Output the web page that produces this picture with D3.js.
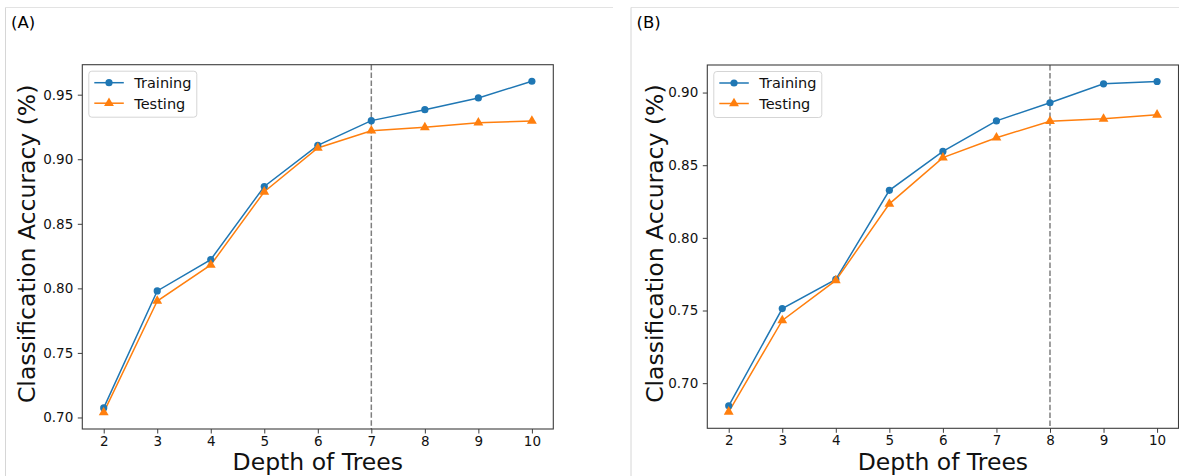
<!DOCTYPE html>
<html>
<head>
<meta charset="utf-8">
<script src="https://cdn.jsdelivr.net/npm/d3@7"></script>
<style>
  body { margin: 0; background: #fff; }
  svg { display: block; font-family: "DejaVu Sans", sans-serif; }
</style>
</head>
<body>
<div id="chart"></div>
<script>
// tree depths on the x axis
const depths = [2, 3, 4, 5, 6, 7, 8, 9, 10];

// panel (A)
const trainA = [0.7074, 0.7980, 0.8223, 0.8789, 0.9107, 0.9299, 0.9384, 0.9475, 0.9604];
const testA  = [0.7039, 0.7902, 0.8181, 0.8748, 0.9087, 0.9221, 0.9247, 0.9283, 0.9296];
const yTicksA = [0.70, 0.75, 0.80, 0.85, 0.90, 0.95];
const cutA = 7;

// panel (B)
const trainB = [0.6844, 0.7513, 0.7714, 0.8327, 0.8595, 0.8805, 0.8930, 0.9060, 0.9076];
const testB  = [0.6803, 0.7432, 0.7707, 0.8234, 0.8552, 0.8689, 0.8803, 0.8819, 0.8847];
const yTicksB = [0.70, 0.75, 0.80, 0.85, 0.90];
const cutB = 8;

const seriesNames = ['Training', 'Testing'];

const W = 1179, H = 476;
const blue = '#1f77b4', orange = '#ff7f0e';
const spine = '#3d3d3d';

const svg = d3.select('#chart').append('svg')
    .attr('width', W)
    .attr('height', H);

function drawPanel(opts) {
  const {frameX, label, left, right, top, bottom, train, test, yTicks, cut, ylabelDx} = opts;

  // light gray panel border (top + left only)
  svg.append('line')
    .attr('x1', frameX).attr('x2', opts.frameRight)
    .attr('y1', 7.5).attr('y2', 7.5)
    .attr('stroke', '#e3e3e3');
  svg.append('line')
    .attr('x1', frameX).attr('x2', frameX)
    .attr('y1', 7.5).attr('y2', H)
    .attr('stroke', '#d6d6d6');

  svg.append('text')
    .attr('x', frameX + 5.5)
    .attr('y', 28)
    .attr('font-size', 16.5)
    .attr('fill', '#000')
    .text(label);

  // matplotlib style 5% margins
  const all = train.concat(test);
  const [lo, hi] = d3.extent(all);
  const pad = (hi - lo) * 0.05;

  const x = d3.scaleLinear()
    .domain([depths[0] - 0.4, depths[depths.length - 1] + 0.4])
    .range([left, right]);
  const y = d3.scaleLinear()
    .domain([lo - pad, hi + pad])
    .range([bottom, top]);

  const g = svg.append('g');

  // axes
  const xAxis = d3.axisBottom(x).tickValues(depths).tickFormat(d3.format('d'))
    .tickSize(4.5).tickPadding(3);
  const yAxis = d3.axisLeft(y).tickValues(yTicks).tickFormat(d3.format('.2f'))
    .tickSize(4.5).tickPadding(4.5);

  const gx = g.append('g')
    .attr('transform', `translate(0,${bottom})`)
    .call(xAxis);
  const gy = g.append('g')
    .attr('transform', `translate(${left},0)`)
    .call(yAxis);
  [gx, gy].forEach(a => {
    a.select('.domain').remove();
    a.selectAll('.tick line').attr('stroke', spine).attr('stroke-width', 1);
    a.selectAll('.tick text')
      .attr('font-size', 13.5)
      .attr('fill', '#111')
      .attr('font-family', '"DejaVu Sans", sans-serif');
  });

  // vertical dashed cut line
  g.append('line')
    .attr('x1', x(cut)).attr('x2', x(cut))
    .attr('y1', top).attr('y2', bottom)
    .attr('stroke', '#7f7f7f')
    .attr('stroke-width', 1.5)
    .attr('stroke-dasharray', '5.5,2.4');

  const line = d3.line()
    .x((d, i) => x(depths[i]))
    .y(d => y(d));

  g.append('path')
    .datum(train)
    .attr('d', line)
    .attr('fill', 'none')
    .attr('stroke', blue)
    .attr('stroke-width', 1.5);
  g.append('path')
    .datum(test)
    .attr('d', line)
    .attr('fill', 'none')
    .attr('stroke', orange)
    .attr('stroke-width', 1.5);

  g.selectAll('.dot')
    .data(train)
    .join('circle')
      .attr('class', 'dot')
      .attr('cx', (d, i) => x(depths[i]))
      .attr('cy', d => y(d))
      .attr('r', 3.6)
      .attr('fill', blue);

  const tri = d3.symbol().type(d3.symbolTriangle).size(42);
  g.selectAll('.tri')
    .data(test)
    .join('path')
      .attr('class', 'tri')
      .attr('transform', (d, i) => `translate(${x(depths[i])},${y(d)})`)
      .attr('d', tri)
      .attr('fill', orange);

  // frame
  g.append('rect')
    .attr('x', left).attr('y', top)
    .attr('width', right - left).attr('height', bottom - top)
    .attr('fill', 'none')
    .attr('stroke', spine)
    .attr('stroke-width', 1.1);

  // axis labels
  g.append('text')
    .attr('x', (left + right) / 2)
    .attr('y', 469.5)
    .attr('text-anchor', 'middle')
    .attr('font-size', 23.5)
    .attr('fill', '#111')
    .text('Depth of Trees');

  g.append('text')
    .attr('transform', `translate(${left + ylabelDx},${(top + bottom) / 2 - 3}) rotate(-90)`)
    .attr('text-anchor', 'middle')
    .attr('font-size', 23.5)
    .attr('fill', '#111')
    .text('Classification Accuracy (%)');

  // legend
  const lg = g.append('g').attr('transform', `translate(${left + 6.5},${top + 6.5})`);
  lg.append('rect')
    .attr('width', 108).attr('height', 46)
    .attr('rx', 3)
    .attr('fill', '#fff')
    .attr('fill-opacity', 0.85)
    .attr('stroke', '#d5d5d5');
  const entries = [
    {name: seriesNames[0], color: blue, shape: 'circle'},
    {name: seriesNames[1], color: orange, shape: 'tri'}
  ];
  entries.forEach((e, i) => {
    const cy = 11.5 + i * 20.5;
    lg.append('line')
      .attr('x1', 5.5).attr('x2', 35)
      .attr('y1', cy).attr('y2', cy)
      .attr('stroke', e.color).attr('stroke-width', 1.5);
    if (e.shape === 'circle') {
      lg.append('circle').attr('cx', 20.2).attr('cy', cy).attr('r', 3.6).attr('fill', e.color);
    } else {
      lg.append('path').attr('transform', `translate(20.2,${cy})`).attr('d', tri).attr('fill', e.color);
    }
    lg.append('text')
      .attr('x', 45.5)
      .attr('y', cy + 5.4)
      .attr('font-size', 14.5)
      .attr('fill', '#111')
      .text(e.name);
  });
}

drawPanel({
  frameX: 5.5, frameRight: 613, label: '(A)',
  left: 82.3, right: 553.3, top: 64.7, bottom: 429,
  train: trainA, test: testA, yTicks: yTicksA, cut: cutA, ylabelDx: -47
});

drawPanel({
  frameX: 631, frameRight: W, label: '(B)',
  left: 707.3, right: 1178.5, top: 65, bottom: 428.3,
  train: trainB, test: testB, yTicks: yTicksB, cut: cutB, ylabelDx: -44
});
</script>
</body>
</html>
